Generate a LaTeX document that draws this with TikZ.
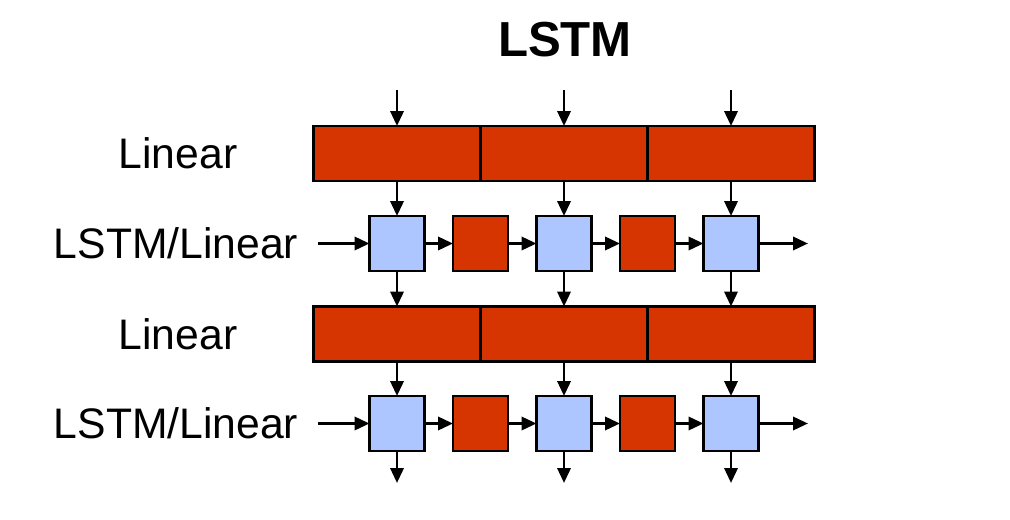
\documentclass[tikz,border=0pt]{standalone}
\usepackage{fontspec}
\setmainfont{Liberation Sans}
\usetikzlibrary{arrows.meta}
\definecolor{linred}{RGB}{214,52,0}
\definecolor{cellblue}{RGB}{173,198,255}

\begin{document}
\begin{tikzpicture}[x=.02cm,y=-.02cm,line width=1.6pt,>={Triangle[length=8.5pt,width=7.5pt]},
    bar/.style={draw,fill=linred,minimum width=3.34cm,minimum height=1.1cm,inner sep=0,outer sep=0},
    cell/.style={draw,fill=cellblue,minimum size=1.1cm,inner sep=0,outer sep=0},
    gate/.style={draw,fill=linred,minimum size=1.1cm,inner sep=0,outer sep=0},
    lbl/.style={font=\fontsize{24.3}{28}\selectfont}]
    \useasboundingbox (0,0) rectangle (1010,520);
    \node[font=\fontsize{28}{32}\selectfont\bfseries] (title) at (565,40) {LSTM};
    % two layers: a linear bar, then a row of cells
    \foreach \r/\ly/\cy in {1/153.5/243.5,2/334/423.5} {
      \node[lbl] (linlbl\r) at (178,\ly) {Linear};
      \node[lbl] (lstmlbl\r) at (176,\cy) {LSTM/Linear};
      \foreach \i/\x in {1/397,2/564,3/731} {
        \node[bar] (bar\r\i) at (\x,\ly) {};
        \node[cell] (cell\r\i) at (\x,\cy) {};
      }
      \foreach \i/\x in {1/480.5,2/647.5} \node[gate] (gate\r\i) at (\x,\cy) {};
      \coordinate (hin\r) at (318,\cy);
      \coordinate (hout\r) at (808,\cy);
      \draw[->] (hin\r) -- (cell\r1);
      \draw[->] (cell\r1) -- (gate\r1);
      \draw[->] (gate\r1) -- (cell\r2);
      \draw[->] (cell\r2) -- (gate\r2);
      \draw[->] (gate\r2) -- (cell\r3);
      \draw[->] (cell\r3) -- (hout\r);
    }
    \foreach \i/\x in {1/397,2/564,3/731} {
      \coordinate (in\i) at (\x,90);
      \coordinate (out\i) at (\x,483);
      \draw[->] (in\i) -- (bar1\i);
      \draw[->] (bar1\i) -- (cell1\i);
      \draw[->] (cell1\i) -- (bar2\i);
      \draw[->] (bar2\i) -- (cell2\i);
      \draw[->] (cell2\i) -- (out\i);
    }
\end{tikzpicture}
\end{document}
